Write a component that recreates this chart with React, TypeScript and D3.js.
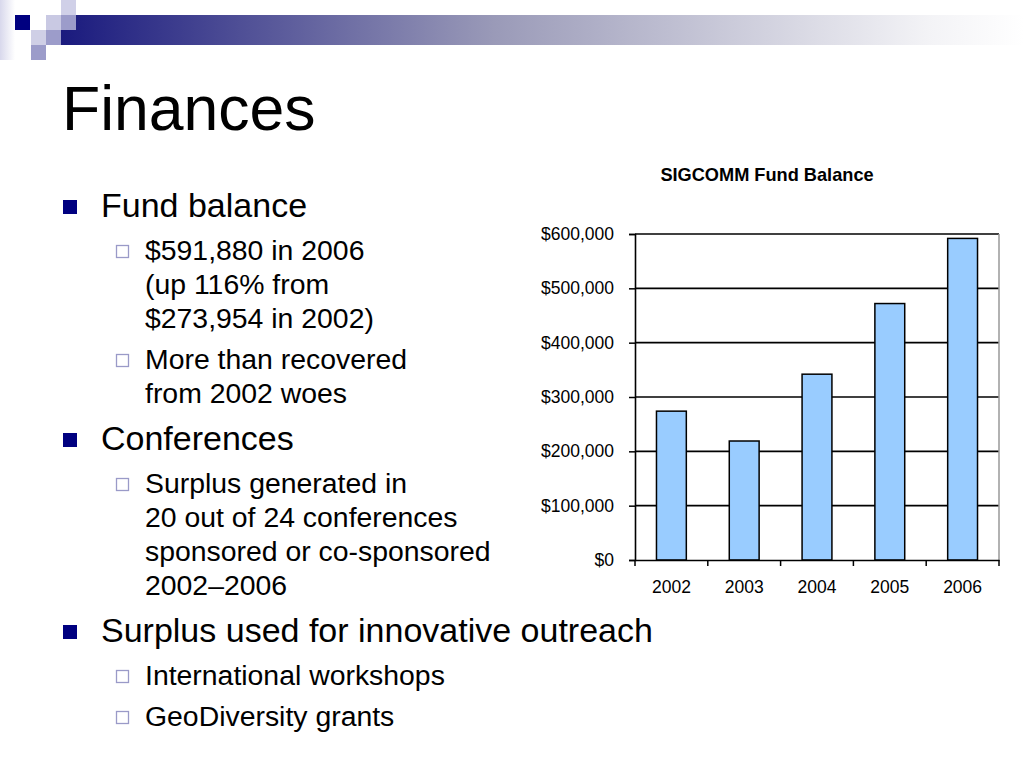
import React, { useRef, useEffect } from "react";
import * as d3 from "d3";

// chart data
const years = ["2002", "2003", "2004", "2005", "2006"];
const balances = [273954, 219000, 342000, 472000, 591880];
const yTicks = [0, 100000, 200000, 300000, 400000, 500000, 600000];
const chartTitle = "SIGCOMM Fund Balance";

// slide text
const slideTitle = "Finances";
const outline: { level: number; lines: string[] }[] = [
  { level: 1, lines: ["Fund balance"] },
  { level: 2, lines: ["$591,880 in 2006", "(up 116% from", "$273,954 in 2002)"] },
  { level: 2, lines: ["More than recovered", "from 2002 woes"] },
  { level: 1, lines: ["Conferences"] },
  {
    level: 2,
    lines: ["Surplus generated in", "20 out of 24 conferences", "sponsored or co-sponsored", "2002\u20132006"],
  },
  { level: 1, lines: ["Surplus used for innovative outreach"] },
  { level: 2, lines: ["International workshops"] },
  { level: 2, lines: ["GeoDiversity grants"] },
];

const FONT = "'Liberation Sans', Arial, Helvetica, sans-serif";

const App: React.FC = () => {
  const ref = useRef<SVGSVGElement | null>(null);

  useEffect(() => {
    const svg = d3.select(ref.current);
    svg.selectAll("*").remove();
    svg.attr("width", 1024).attr("height", 768).style("font-family", FONT);

    // header decoration
    const defs = svg.append("defs");
    const grad = defs.append("linearGradient").attr("id", "hdr").attr("x1", "0").attr("x2", "1");
    grad.append("stop").attr("offset", "0").attr("stop-color", "#1a1a7e");
    grad.append("stop").attr("offset", "0.45").attr("stop-color", "#9a9ab8");
    grad.append("stop").attr("offset", "0.9").attr("stop-color", "#f3f3f6");
    grad.append("stop").attr("offset", "1").attr("stop-color", "#ffffff");
    const vgrad = defs.append("linearGradient").attr("id", "side").attr("x1", "0").attr("x2", "1");
    vgrad.append("stop").attr("offset", "0").attr("stop-color", "#d8d8ec");
    vgrad.append("stop").attr("offset", "1").attr("stop-color", "#ffffff");

    const hdr = svg.append("g");
    hdr.append("rect").attr("x", 0).attr("y", 0).attr("width", 15).attr("height", 60).attr("fill", "url(#side)");
    hdr.append("rect").attr("x", 61).attr("y", 15).attr("width", 963).attr("height", 30).attr("fill", "url(#hdr)");
    const squares: [number, number, string][] = [
      [15, 15, "#000080"],
      [46, 15, "#c9c9e3"],
      [61, 0, "#d0d0e8"],
      [61, 15, "#9c9cca"],
      [31, 30, "#cfcfe6"],
      [46, 30, "#9c9cca"],
      [31, 45, "#9c9cca"],
    ];
    hdr
      .selectAll("rect.sq")
      .data(squares)
      .join("rect")
      .attr("class", "sq")
      .attr("x", (d) => d[0])
      .attr("y", (d) => d[1])
      .attr("width", 15)
      .attr("height", 15)
      .attr("fill", (d) => d[2]);

    // title
    svg
      .append("text")
      .attr("x", 62)
      .attr("y", 130)
      .style("font-size", "62.5px")
      .attr("fill", "#000")
      .text(slideTitle);

    // outline text
    const body = svg.append("g");
    let y = 217;
    let prevLevel = 0;
    outline.forEach((item, i) => {
      if (i > 0) {
        if (item.level === 1) y += 47;
        else if (prevLevel === 1) y += 43;
        else y += 41;
      }
      const first = y;
      item.lines.forEach((line, j) => {
        if (j > 0) y += 34;
        body
          .append("text")
          .attr("x", item.level === 1 ? 101 : 145)
          .attr("y", y)
          .style("font-size", item.level === 1 ? "34px" : "28.4px")
          .attr("fill", "#000")
          .text(line);
      });
      if (item.level === 1) {
        body
          .append("rect")
          .attr("x", 63)
          .attr("y", first - 17)
          .attr("width", 14)
          .attr("height", 14)
          .attr("fill", "#000080");
      } else {
        body
          .append("rect")
          .attr("x", 116.5)
          .attr("y", first - 14.5)
          .attr("width", 12)
          .attr("height", 12)
          .attr("fill", "#fff")
          .attr("stroke", "#9a9ac8")
          .attr("stroke-width", 1.3);
      }
      prevLevel = item.level;
    });

    // chart
    const left = 635;
    const right = 999;
    const top = 234;
    const bottom = 560;

    const x = d3.scaleBand<string>().domain(years).range([left, right]).padding(0);
    const yScale = d3.scaleLinear().domain([0, 600000]).range([bottom, top]);

    const chart = svg.append("g");

    chart
      .append("text")
      .attr("x", 767)
      .attr("y", 181)
      .attr("text-anchor", "middle")
      .style("font-size", "18.2px")
      .style("font-weight", "bold")
      .text(chartTitle);

    // gridlines
    chart
      .selectAll("line.grid")
      .data(yTicks.filter((t) => t > 0))
      .join("line")
      .attr("class", "grid")
      .attr("x1", left)
      .attr("x2", right)
      .attr("y1", (d) => yScale(d))
      .attr("y2", (d) => yScale(d))
      .attr("stroke", "#000")
      .attr("stroke-width", 1.6);

    // right border
    chart
      .append("line")
      .attr("x1", right)
      .attr("x2", right)
      .attr("y1", top)
      .attr("y2", bottom)
      .attr("stroke", "#999")
      .attr("stroke-width", 1.5);

    // bars
    const barW = x.bandwidth() * 0.41;
    chart
      .selectAll("rect.bar")
      .data(years)
      .join("rect")
      .attr("class", "bar")
      .attr("x", (d) => (x(d) as number) + (x.bandwidth() - barW) / 2)
      .attr("y", (_, i) => yScale(balances[i]))
      .attr("width", barW)
      .attr("height", (_, i) => bottom - yScale(balances[i]))
      .attr("fill", "#99ccff")
      .attr("stroke", "#000")
      .attr("stroke-width", 1.5);

    // y axis
    const yAxis = chart
      .append("g")
      .attr("transform", `translate(${left},0)`)
      .call(
        d3
          .axisLeft(yScale)
          .tickValues(yTicks)
          .tickFormat(d3.format("$,") as any)
          .tickSize(6)
          .tickPadding(15)
      );
    yAxis.select(".domain").attr("stroke", "#000").attr("stroke-width", 1.6);
    yAxis.selectAll(".tick line").attr("stroke", "#000").attr("stroke-width", 1.5);
    yAxis
      .selectAll(".tick text")
      .style("font-size", "17.5px")
      .style("font-family", FONT)
      .attr("fill", "#000");

    // x axis: labels at centres, ticks on category boundaries
    const xAxis = chart
      .append("g")
      .attr("transform", `translate(0,${bottom})`)
      .call(d3.axisBottom(x).tickSize(0).tickPadding(21).tickSizeOuter(0));
    xAxis.select(".domain").attr("stroke", "#000").attr("stroke-width", 1.6);
    xAxis
      .selectAll(".tick text")
      .style("font-size", "17.5px")
      .style("font-family", FONT)
      .attr("fill", "#000")
      .attr("dy", "0");
    xAxis
      .selectAll("line.bound")
      .data(d3.range(years.length + 1))
      .join("line")
      .attr("class", "bound")
      .attr("x1", (i) => left + i * x.step())
      .attr("x2", (i) => left + i * x.step())
      .attr("y1", 0)
      .attr("y2", 6)
      .attr("stroke", "#000")
      .attr("stroke-width", 1.5);
    xAxis.selectAll(".tick text").attr("y", 33);
  }, []);

  return (
    <div style={{ position: "absolute", left: 0, top: 0, width: 1024, height: 768, background: "#fff" }}>
      <svg ref={ref} style={{ display: "block" }} />
    </div>
  );
};

export default App;
